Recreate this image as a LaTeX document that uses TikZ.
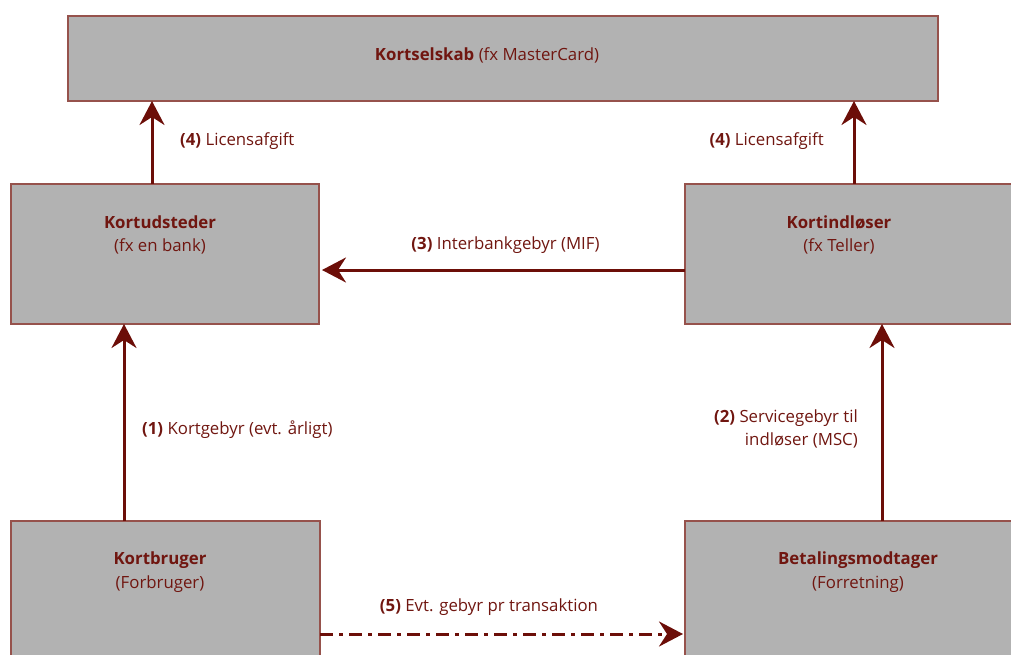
\documentclass[tikz,border=0pt]{standalone}
\usepackage{fontspec}
\setmainfont{Open Sans}
\usetikzlibrary{arrows.meta}
\definecolor{boxfill}{RGB}{178,178,178}
\definecolor{boxline}{RGB}{150,82,76}
\definecolor{arrcol}{RGB}{108,14,8}
\definecolor{txtcol}{RGB}{112,22,16}
\tikzset{
  box/.style={draw=boxline, fill=boxfill, line width=1.2pt, inner sep=0pt, outer sep=0pt},
  arr/.style={draw=arrcol, line width=3pt, -{Stealth[length=24pt, width=25pt, inset=8pt]}},
  lbl/.style={text=txtcol, font=\fontsize{16.8}{23.5}\selectfont, inner sep=0pt, align=center},
}
\begin{document}
\begin{tikzpicture}[x=1pt, y=-1pt]
\useasboundingbox (0,0) rectangle (1011,655);
\clip (0,0) rectangle (1011,655);
% boxes
\node[box, minimum width=870pt, minimum height=85pt] (ks) at (503,58.5) {};
\node[box, minimum width=308pt, minimum height=140pt] (ku) at (165,254) {};
\node[box, minimum width=340pt, minimum height=140pt] (ki) at (855,254) {};
\node[box, minimum width=309pt, minimum height=160pt] (kb) at (165.5,601) {};
\node[box, minimum width=340pt, minimum height=160pt] (bm) at (855,601) {};
% box texts
\node[lbl] (tks) at (487,55.5) {\textbf{Kortselskab} (fx MasterCard)};
\node[lbl] (tku) at (160,235) {\textbf{Kortudsteder}\\(fx en bank)};
\node[lbl] (tki) at (839,235) {\textbf{Kortindløser}\\(fx Teller)};
\node[lbl] (tkb) at (160,572) {\textbf{Kortbruger}\\(Forbruger)};
\node[lbl] (tbm) at (858,572) {\textbf{Betalingsmodtager}\\(Forretning)};
% connector x/y positions
\coordinate (x4l) at (152,0);
\coordinate (x4r) at (854,0);
\coordinate (x1) at (124,0);
\coordinate (x2) at (882,0);
\coordinate (y3) at (0,270);
\coordinate (y5) at (0,634);
% connectors
\draw[arr] (ku.north -| x4l) -- (ks.south -| x4l);
\draw[arr] (ki.north -| x4r) -- (ks.south -| x4r);
\draw[arr] (ki.west |- y3) -- ([xshift=3pt]ku.east |- y3);
\draw[arr] (kb.north -| x1) -- (ku.south -| x1);
\draw[arr] (bm.north -| x2) -- (ki.south -| x2);
\draw[arr, dash pattern=on 13pt off 6pt on 4pt off 6pt] (kb.east |- y5) -- ([xshift=-2pt]bm.west |- y5);
% connector labels
\node[lbl, anchor=west] (l4l) at (180,141) {\textbf{(4)} Licensafgift};
\node[lbl, anchor=east] (l4r) at (824,141) {\textbf{(4)} Licensafgift};
\node[lbl] (l3) at (505.5,245) {\textbf{(3)} Interbankgebyr (MIF)};
\node[lbl, anchor=west] (l1) at (142,430) {\textbf{(1)} Kortgebyr (evt. årligt)};
\node[lbl, anchor=east, align=right] (l2) at (858,429) {\textbf{(2)} Servicegebyr til\\indløser (MSC)};
\node[lbl] (l5) at (489,607) {\textbf{(5)} Evt. gebyr pr transaktion};
\end{tikzpicture}
\end{document}
